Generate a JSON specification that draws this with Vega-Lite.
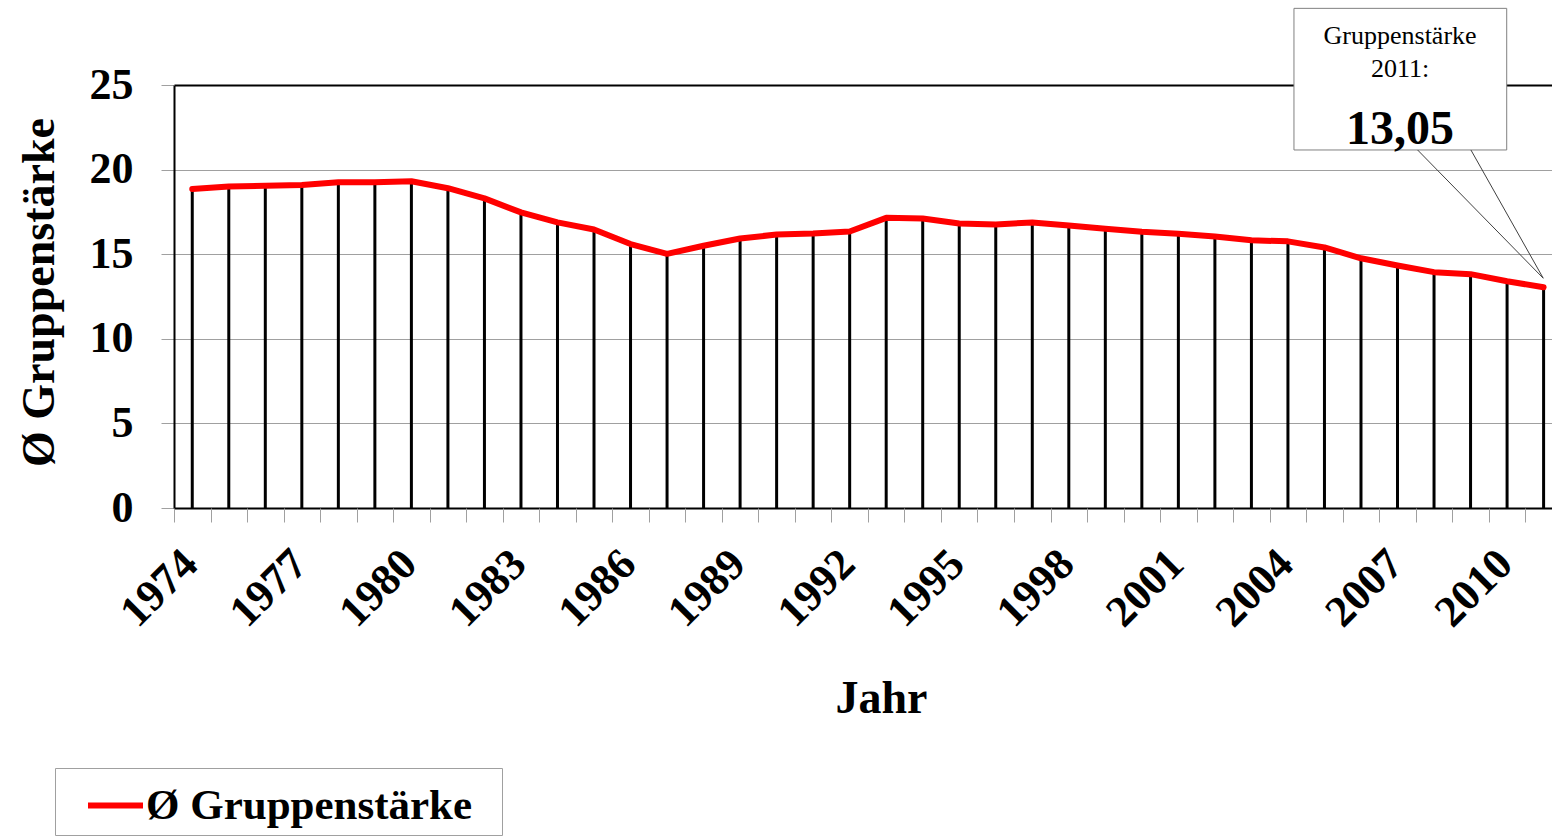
{
  "$schema": "https://vega.github.io/schema/vega-lite/v6.json",
  "autosize": "none",
  "width": 1378,
  "height": 423,
  "padding": {"left": 174, "top": 85, "right": 0, "bottom": 330},
  "background": "white",
  "config": {"view": {"stroke": null}, "font": "Liberation Serif"},
  "resolve": {"axis": {"x": "independent"}},
  "datasets": {
    "series": [
      {"Jahr": 1974, "Wert": 18.85}, {"Jahr": 1975, "Wert": 19.0}, {"Jahr": 1976, "Wert": 19.05},
      {"Jahr": 1977, "Wert": 19.09}, {"Jahr": 1978, "Wert": 19.25}, {"Jahr": 1979, "Wert": 19.25},
      {"Jahr": 1980, "Wert": 19.31}, {"Jahr": 1981, "Wert": 18.9}, {"Jahr": 1982, "Wert": 18.3},
      {"Jahr": 1983, "Wert": 17.47}, {"Jahr": 1984, "Wert": 16.88}, {"Jahr": 1985, "Wert": 16.46},
      {"Jahr": 1986, "Wert": 15.6}, {"Jahr": 1987, "Wert": 15.02}, {"Jahr": 1988, "Wert": 15.5},
      {"Jahr": 1989, "Wert": 15.93}, {"Jahr": 1990, "Wert": 16.16}, {"Jahr": 1991, "Wert": 16.22},
      {"Jahr": 1992, "Wert": 16.34}, {"Jahr": 1993, "Wert": 17.15}, {"Jahr": 1994, "Wert": 17.11},
      {"Jahr": 1995, "Wert": 16.82}, {"Jahr": 1996, "Wert": 16.76}, {"Jahr": 1997, "Wert": 16.88},
      {"Jahr": 1998, "Wert": 16.7}, {"Jahr": 1999, "Wert": 16.51}, {"Jahr": 2000, "Wert": 16.33},
      {"Jahr": 2001, "Wert": 16.21}, {"Jahr": 2002, "Wert": 16.05}, {"Jahr": 2003, "Wert": 15.82},
      {"Jahr": 2004, "Wert": 15.76}, {"Jahr": 2005, "Wert": 15.4}, {"Jahr": 2006, "Wert": 14.76},
      {"Jahr": 2007, "Wert": 14.33}, {"Jahr": 2008, "Wert": 13.94}, {"Jahr": 2009, "Wert": 13.82},
      {"Jahr": 2010, "Wert": 13.4}, {"Jahr": 2011, "Wert": 13.05}
    ]
  },
  "layer": [
    {
      "data": {"name": "series"},
      "mark": {"type": "rule", "color": "black", "strokeWidth": 3},
      "encoding": {
        "x": {
          "field": "Jahr", "type": "quantitative",
          "scale": {"domain": [1973.5, 2011.23], "nice": false, "zero": false},
          "axis": {
            "orient": "bottom",
            "values": [1974, 1977, 1980, 1983, 1986, 1989, 1992, 1995, 1998, 2001, 2004, 2007, 2010],
            "format": "d",
            "grid": false,
            "ticks": false, "tickSize": 0,
            "domainColor": "black", "domainWidth": 2,
            "labelOverlap": false, "labelFlush": false, "labelBound": false,
            "labelAngle": -45, "labelAlign": "right", "labelBaseline": "middle",
            "labelOffset": -2, "labelPadding": 49,
            "labelFont": "Liberation Serif", "labelFontWeight": "bold", "labelFontSize": 44, "labelColor": "black",
            "title": "Jahr",
            "titleFont": "Liberation Serif", "titleFontWeight": "bold", "titleFontSize": 46, "titleColor": "black",
            "titleX": 707, "titleY": 204, "titleAlign": "center", "titleBaseline": "alphabetic"
          }
        },
        "y": {
          "field": "Wert", "type": "quantitative",
          "scale": {"domain": [0, 25], "nice": false},
          "axis": {
            "values": [0, 5, 10, 15, 20, 25],
            "grid": true,
            "gridColor": {"condition": {"test": "datum.value == 25", "value": "black"}, "value": "#a0a0a0"},
            "gridWidth": {"condition": {"test": "datum.value == 25", "value": 2}, "value": 1},
            "domainColor": "black", "domainWidth": 2,
            "tickColor": "#a0a0a0", "tickWidth": 1, "tickSize": 13,
            "labelPadding": 28,
            "labelFont": "Liberation Serif", "labelFontWeight": "bold", "labelFontSize": 44, "labelColor": "black",
            "title": "Ø Gruppenstärke",
            "titleFont": "Liberation Serif", "titleFontWeight": "bold", "titleFontSize": 46, "titleColor": "black",
            "titleAngle": -90, "titleX": -121, "titleY": 207, "titleAlign": "center", "titleBaseline": "alphabetic"
          }
        },
        "y2": {"datum": 0}
      }
    },
    {
      "data": {"name": "series"},
      "mark": {"type": "line", "strokeWidth": 6, "strokeJoin": "round", "strokeCap": "round"},
      "encoding": {
        "x": {
          "field": "Jahr", "type": "quantitative",
          "axis": {
            "orient": "bottom",
            "values": [1973.5,1974.5,1975.5,1976.5,1977.5,1978.5,1979.5,1980.5,1981.5,1982.5,1983.5,1984.5,1985.5,1986.5,1987.5,1988.5,1989.5,1990.5,1991.5,1992.5,1993.5,1994.5,1995.5,1996.5,1997.5,1998.5,1999.5,2000.5,2001.5,2002.5,2003.5,2004.5,2005.5,2006.5,2007.5,2008.5,2009.5,2010.5],
            "labels": false, "domain": false, "grid": false,
            "tickColor": "#a0a0a0", "tickWidth": 1, "tickSize": 14,
            "title": null
          }
        },
        "y": {"field": "Wert", "type": "quantitative"},
        "color": {
          "datum": "Ø Gruppenstärke",
          "scale": {"range": ["#ff0000"]},
          "legend": {
            "orient": "none", "legendX": -119, "legendY": 683,
            "title": "\u00a0", "titleOrient": "right", "titlePadding": 23,
            "titleFont": "Liberation Serif", "titleFontSize": 43,
            "strokeColor": "#a0a0a0", "padding": 7,
            "symbolType": "stroke", "symbolSize": 3025, "symbolStrokeWidth": 6, "symbolOffset": 23,
            "labelFont": "Liberation Serif", "labelFontWeight": "bold", "labelFontSize": 43, "labelColor": "black",
            "labelOffset": 0, "labelLimit": 0
          }
        }
      }
    },
    {
      "data": {"values": [{"Hinweis": "Gruppenstärke 2011"}]},
      "mark": {"type": "rect", "fill": "white", "stroke": "#808080", "strokeWidth": 1},
      "encoding": {
        "x": {"datum": 2004.165, "type": "quantitative", "axis": null},
        "x2": {"datum": 2009.99},
        "y": {"datum": 29.53, "type": "quantitative"},
        "y2": {"datum": 21.16}
      }
    },
    {
      "data": {"values": [{"Spitze": "links", "x0": 2007.55}, {"Spitze": "rechts", "x0": 2009.01}]},
      "mark": {"type": "rule", "color": "#404040", "strokeWidth": 1},
      "encoding": {
        "x": {"field": "x0", "type": "quantitative", "axis": null},
        "y": {"datum": 21.16, "type": "quantitative"},
        "x2": {"datum": 2010.99},
        "y2": {"datum": 13.58}
      }
    },
    {
      "data": {"values": [{"Text": "Gruppenstärke"}]},
      "mark": {"type": "text", "font": "Liberation Serif", "fontSize": 26, "color": "black", "align": "center", "baseline": "alphabetic"},
      "encoding": {
        "x": {"datum": 2007.07, "type": "quantitative", "axis": null},
        "y": {"datum": 27.42, "type": "quantitative"},
        "text": {"field": "Text"}
      }
    },
    {
      "data": {"values": [{"Text": "2011:"}]},
      "mark": {"type": "text", "font": "Liberation Serif", "fontSize": 26, "color": "black", "align": "center", "baseline": "alphabetic"},
      "encoding": {
        "x": {"datum": 2007.07, "type": "quantitative", "axis": null},
        "y": {"datum": 25.49, "type": "quantitative"},
        "text": {"field": "Text"}
      }
    },
    {
      "data": {"values": [{"Text": "13,05"}]},
      "mark": {"type": "text", "font": "Liberation Serif", "fontSize": 48, "fontWeight": "bold", "color": "black", "align": "center", "baseline": "alphabetic"},
      "encoding": {
        "x": {"datum": 2007.07, "type": "quantitative", "axis": null},
        "y": {"datum": 21.5, "type": "quantitative"},
        "text": {"field": "Text"}
      }
    }
  ]
}
